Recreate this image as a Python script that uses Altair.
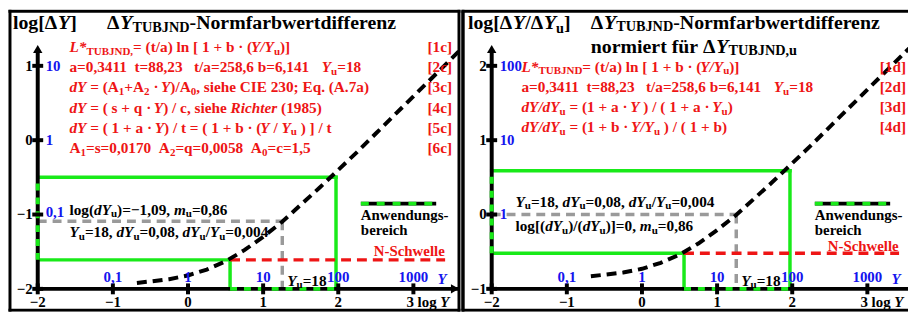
import altair as alt
import pandas as pd

# ---------------- values ----------------
log_Y = [-0.68, -0.5, -0.25, 0.0, 0.25, 0.5, 0.75, 1.0, 1.25, 1.5, 1.75, 2.0,
         2.25, 2.5, 2.75, 3.0, 3.25, 3.5, 3.65]
log_dY = [-1.92, -1.90, -1.87, -1.82, -1.74, -1.63, -1.48, -1.30, -1.10, -0.87,
          -0.64, -0.40, -0.16, 0.09, 0.34, 0.59, 0.84, 1.09, 1.24]
log_dY_rel = [-0.83, -0.81, -0.78, -0.73, -0.65, -0.54, -0.39, -0.21, -0.01, 0.22,
              0.45, 0.69, 0.93, 1.18, 1.43, 1.68, 1.93, 2.18, 2.33]

range_logY = [0.56, 1.97]          # Anwendungsbereich in log Y
range_dY = [-1.61, -0.50]          # left panel, log dY (lower = N-Schwelle)
range_dY_rel = [-0.52, 0.59]       # right panel, log dY/dYu
log_Yu = 1.255
log_dYu = -1.09
log_dYu_rel = 0.0

x_ticks = [-2, -1, 0, 1, 2, 3]
x_tick_labels = ["−2", "−1", "0", "1", "2"]
Y_values = [-1, 0, 1, 2, 3]
Y_labels = ["0,1", "1", "10", "100", "1000"]
y_ticks_left = [-2, -1, 0, 1]
y_labels_left = ["−2", "−1", "0", "1"]
dy_at_left = [-1, 0, 1]
dy_labels_left = ["0,1", "1", "10"]
y_ticks_right = [-1, 0, 1, 2]
y_labels_right = ["−1", "0", "1", "2"]
dy_at_right = [0, 1, 2]
dy_labels_right = ["1", "10", "100"]

# rich text lines: (text, kind)  kind: n=bold, i=bold italic, s=subscript, si=subscript italic
left_title1 = [("log[Δ", "n"), ("Y", "i"), ("]", "n")]
left_title2 = [("Δ", "n"), ("Y", "i"), ("TUBJND", "s"), ("-Normfarbwertdifferenz", "n")]
left_red = [
    [("L*", "i"), ("TUBJND,", "s"), ("= (t/a) ln [ 1 + b · (", "n"), ("Y/Y", "i"), ("u", "s"), (")]", "n")],
    [("a=0,3411  t=88,23   t/a=258,6 b=6,141   ", "n"), ("Y", "i"), ("u", "s"), ("=18", "n")],
    [("dY", "i"), (" = (A", "n"), ("1", "s"), ("+A", "n"), ("2", "s"), (" · ", "n"), ("Y", "i"),
     (")/A", "n"), ("0", "s"), (", siehe CIE 230; Eq. (A.7a)", "n")],
    [("dY", "i"), (" = ( s + q · ", "n"), ("Y", "i"), (") / c, siehe ", "n"), ("Richter", "i"), (" (1985)", "n")],
    [("dY", "i"), (" = ( 1 + a · ", "n"), ("Y", "i"), (") / t = ( 1 + b · (", "n"), ("Y", "i"), (" / ", "n"),
     ("Y", "i"), ("u", "s"), (" ) ] / t", "n")],
    [("A", "n"), ("1", "s"), ("=s=0,0170  A", "n"), ("2", "s"), ("=q=0,0058  A", "n"), ("0", "s"), ("=c=1,5", "n")],
]
left_red_tags = ["[1c]", "[2c]", "[3c]", "[4c]", "[5c]", "[6c]"]
left_black1 = [("log(", "n"), ("dY", "i"), ("u", "s"), (")=−1,09, ", "n"), ("m", "i"), ("u", "s"), ("=0,86", "n")]
yu_line = [("Y", "i"), ("u", "s"), ("=18, ", "n"), ("dY", "i"), ("u", "s"), ("=0,08, ", "n"), ("dY", "i"),
           ("u", "s"), ("/", "n"), ("Y", "i"), ("u", "s"), ("=0,004", "n")]
yu_short = [("Y", "i"), ("u", "s"), ("=18", "n")]

right_title1 = [("log[Δ", "n"), ("Y", "i"), ("/Δ", "n"), ("Y", "i"), ("u", "s"), ("]", "n")]
right_title2 = [("Δ", "n"), ("Y", "i"), ("TUBJND", "s"), ("-Normfarbwertdifferenz", "n")]
right_title3 = [("normiert für Δ", "n"), ("Y", "i"), ("TUBJND,u", "s")]
right_red = [
    [("L*", "i"), ("TUBJND", "s"), ("= (t/a) ln [ 1 + b · (", "n"), ("Y/Y", "i"), ("u", "s"), (")]", "n")],
    [("a=0,3411  t=88,23   t/a=258,6 b=6,141   ", "n"), ("Y", "i"), ("u", "s"), ("=18", "n")],
    [("dY/dY", "i"), ("u", "s"), (" = (1 + a · ", "n"), ("Y", "i"), (" ) / ( 1 + a · ", "n"), ("Y", "i"),
     ("u", "s"), (")", "n")],
    [("dY/dY", "i"), ("u", "s"), (" = (1 + b · ", "n"), ("Y/Y", "i"), ("u", "s"), (" ) / ( 1 + b)", "n")],
]
right_red_tags = ["[1d]", "[2d]", "[3d]", "[4d]"]
right_black2 = [("log[(", "n"), ("dY", "i"), ("u", "s"), (")/(", "n"), ("dY", "i"), ("u", "s"),
                (")]=0, ", "n"), ("m", "i"), ("u", "s"), ("=0,86", "n")]
legend_text = ["Anwendungs-", "bereich"]
threshold_text = "N-Schwelle"

# ---------------- styling ----------------
FONT = "Liberation Serif"
RED = "#ee1515"
BLUE = "#1414ee"
GREEN = "#19ea19"
GRAY = "#9a9a9a"
PXU, PYU = 75.8, 75.0
SUB = 0.72
TS = 20      # title size
FS = 15.4    # body text size

B = {" ": 250, "!": 333, "(": 333, ")": 333, "*": 500, "+": 570, ",": 250, "-": 333, ".": 250,
     "/": 278, ":": 333, ";": 333, "=": 570, "[": 333, "]": 333, "·": 250, "−": 570, "Δ": 667,
     "A": 722, "B": 667, "C": 722, "D": 722, "E": 667, "I": 389, "J": 500, "N": 722, "S": 556,
     "T": 667, "U": 722, "Y": 722, "a": 500, "b": 556, "c": 444, "d": 556, "e": 444, "f": 333,
     "g": 500, "h": 556, "i": 278, "k": 556, "l": 278, "m": 833, "n": 556, "o": 500, "q": 556,
     "r": 444, "s": 389, "t": 333, "u": 556, "w": 722, "z": 444, "ü": 556}
BI = {" ": 250, "*": 500, "/": 278, "L": 611, "Y": 611, "R": 667, "a": 500, "c": 444, "d": 500,
      "e": 444, "h": 556, "i": 278, "m": 778, "r": 389, "t": 278, "u": 556}


class Panel:
    def __init__(self, left, width, px0, ybase):
        self.left, self.width, self.px0, self.ybase = left, width, px0, ybase
        self.xs = alt.Scale(domain=[self.X(left), self.X(left + width)], nice=False, zero=False)
        self.ys = alt.Scale(domain=[self.Y(313), self.Y(8)], nice=False, zero=False)
        self.layers = []
        self.texts = []

    def X(self, px):
        return (px - self.px0) / PXU - 2

    def Y(self, py):
        return (290 - py) / PYU + self.ybase

    def enc(self, x="x", y="y"):
        return dict(x=alt.X(f"{x}:Q", scale=self.xs, axis=None),
                    y=alt.Y(f"{y}:Q", scale=self.ys, axis=None))

    def rules(self, rows, color, width, dash=None, cap="butt"):
        kw = dict(color=color, strokeWidth=width, strokeCap=cap, clip=True)
        if dash:
            kw["strokeDash"] = dash
        e = self.enc()
        e["x2"] = "x2:Q"
        e["y2"] = "y2:Q"
        self.layers.append(alt.Chart(pd.DataFrame(rows)).mark_rule(**kw).encode(**e))

    def rich(self, segs, px, py, size, color, align="left", subshift=0.3):
        parts, total = [], 0.0
        for t, k in segs:
            it = "i" in k
            sb = k.startswith("s")
            fs = size * SUB if sb else size
            tab = BI if it else B
            w = sum(tab.get(c, 500) for c in t) * fs / 1000
            lead = (len(t) - len(t.lstrip(" "))) * tab[" "] * fs / 1000
            parts.append((t.strip(" "), it, sb, fs, w, lead))
            total += w
        cur = px - (total if align == "right" else total / 2 if align == "center" else 0)
        for t, it, sb, fs, w, lead in parts:
            if t:
                self.texts.append(dict(x=self.X(cur + lead),
                                       y=self.Y(py + (subshift * size if sb else 0)),
                                       text=t.replace(" ", "\u00a0"), size=fs, color=color,
                                       italic=it))
            cur += w

    def text_layers(self):
        df = pd.DataFrame(self.texts)
        for it in (False, True):
            sub = df[df["italic"] == it]
            if len(sub):
                e = self.enc()
                e.update(text="text:N", size=alt.Size("size:Q", scale=None),
                         color=alt.Color("color:N", scale=None))
                self.layers.append(alt.Chart(sub).mark_text(
                    align="left", baseline="middle", font=FONT, fontWeight="bold",
                    fontStyle="italic" if it else "normal").encode(**e))

    def chart(self):
        self.text_layers()
        return alt.layer(*self.layers).properties(width=self.width, height=305)


def build(p, axis_y, top_y_px, right_px, curve_vals, rng, dyu, yticks, ylabels, dy_at, dy_labels,
          xlab_px, arrow):
    X, Y = p.X, p.Y
    # frame
    p.rules([dict(x=X(p.left + 2), x2=X(right_px), y=Y(10), y2=Y(10)),
             dict(x=X(p.left + 2), x2=X(right_px), y=Y(311.5), y2=Y(311.5)),
             dict(x=X(p.left + 2), x2=X(p.left + 2), y=Y(10), y2=Y(311.5))]
            + ([dict(x=X(right_px), x2=X(right_px), y=Y(10), y2=Y(311.5))] if arrow else []),
            "black", 3, cap="square")
    lo, hi = rng
    xl, xh = range_logY
    # Anwendungsbereich (solid part)
    p.rules([dict(x=-2, x2=xh, y=hi, y2=hi), dict(x=xh, x2=xh, y=hi, y2=axis_y),
             dict(x=xl, x2=xl, y=axis_y, y2=lo), dict(x=-2, x2=xl, y=lo, y2=lo)],
            GREEN, 3.5, cap="square")
    # Yu guide
    p.rules([dict(x=-2, x2=log_Yu, y=dyu, y2=dyu), dict(x=log_Yu, x2=log_Yu, y=dyu, y2=axis_y)],
            GRAY, 3.5, dash=[9, 6])
    # N-Schwelle
    p.rules([dict(x=xl, x2=X(xlab_px + 72), y=lo, y2=lo)], RED, 3.5, dash=[10, 6])
    # curve
    cdf = pd.DataFrame({"x": log_Y, "y": curve_vals, "o": range(len(log_Y))})
    e = p.enc()
    e["order"] = "o:Q"
    p.layers.append(alt.Chart(cdf).mark_line(color="black", strokeWidth=4, strokeDash=[10, 6],
                                             clip=True).encode(**e))
    # axes
    x_end = X(right_px - 1) if arrow else X(p.left + p.width + 5)
    p.rules([dict(x=-2, x2=x_end, y=axis_y, y2=axis_y),
             dict(x=-2, x2=-2, y=axis_y, y2=Y(top_y_px))], "black", 4)
    # Anwendungsbereich along the axes
    p.rules([dict(x=-2, x2=-2, y=lo, y2=hi), dict(x=xl, x2=xh, y=axis_y, y2=axis_y)],
            GREEN, 4, dash=[7, 7])
    # ticks
    tdf = pd.DataFrame({"x": x_ticks, "y": [axis_y] * len(x_ticks)})
    p.layers.append(alt.Chart(tdf).mark_tick(orient="vertical", size=11, thickness=4,
                                             color="black", opacity=1).encode(**p.enc()))
    ydf = pd.DataFrame({"x": [-2] * len(yticks), "y": yticks})
    p.layers.append(alt.Chart(ydf).mark_tick(orient="horizontal", size=11, thickness=4,
                                             color="black", opacity=1).encode(**p.enc()))
    # arrowheads
    ar = [dict(x=-2, y=Y(top_y_px - 4), s="triangle-up")]
    if arrow:
        ar.append(dict(x=X(right_px - 4), y=axis_y, s="triangle-right"))
    for a in ar:
        p.layers.append(alt.Chart(pd.DataFrame([a])).mark_point(
            shape=a["s"], filled=True, size=90, color="black", opacity=1).encode(**p.enc()))
    # legend line
    lx = xlab_px - 13
    p.rules([dict(x=X(lx), x2=X(lx + 76), y=Y(204), y2=Y(204))], "black", 4)
    p.rules([dict(x=X(lx), x2=X(lx + 76), y=Y(204), y2=Y(204))], GREEN, 4, dash=[8, 8])
    p.rich([(legend_text[0], "n")], lx, 216, 15, "black")
    p.rich([(legend_text[1], "n")], lx, 231, 15, "black")
    p.rich([(threshold_text, "n")], xlab_px, 252 if arrow else 247, 15, RED)
    # axis labels
    ox = p.px0
    for v, lab in zip(x_ticks[:-1], x_tick_labels):
        p.rich([(lab, "n")], ox + (v + 2) * PXU, 303, 15, "black", "center")
    p.rich([("3 log ", "n"), ("Y", "i")], ox + 5 * PXU - 7, 303, 15, "black")
    for v, lab in zip(Y_values, Y_labels):
        p.rich([(lab, "n")], ox + (v + 2) * PXU, 278, 15, BLUE, "center")
    p.rich([("Y", "i")], ox + 5 * PXU + 29, 280, 15, BLUE, "center")
    for v, lab in zip(yticks, ylabels):
        p.rich([(lab, "n")], ox - 5, 290 - (v - p.ybase) * PYU, 15, "black", "right")
    for v, lab in zip(dy_at, dy_labels):
        p.rich([(lab, "n")], ox + 8, 290 - (v - p.ybase) * PYU - (2 if lab == "0,1" else 0),
               15, BLUE)
    p.rich(yu_short, ox + 3.255 * PXU + 5, 282, FS, "black")


# ---------------- left panel ----------------
L = Panel(8, 457, 38, -2)
build(L, -2, 52, 463, log_dY, range_dY, log_dYu, y_ticks_left, y_labels_left, dy_at_left,
      dy_labels_left, 377, True)
L.rich(left_title1, 13, 22, TS, "black")
L.rich(left_title2, 108, 22, TS, "black", subshift=0.26)
for i, (segs, tag) in enumerate(zip(left_red, left_red_tags)):
    yy = 46 + i * 20.4
    L.rich(segs, 70, yy, FS, RED)
    L.rich([(tag, "n")], 456, yy, FS, RED, "right")
L.rich(left_black1, 70, 210, FS, "black")
L.rich(yu_line, 70, 233, FS, "black")

# ---------------- right panel ----------------
R = Panel(465, 451, 496, -1)
build(R, -1, 52, 930, log_dY_rel, range_dY_rel, log_dYu_rel, y_ticks_right, y_labels_right,
      dy_at_right, dy_labels_right, 835, False)
R.rules([dict(x=R.X(467), x2=R.X(467), y=R.Y(10), y2=R.Y(311.5))], "black", 3)
R.rich(right_title1, 472, 22, TS, "black")
R.rich(right_title2, 596, 21.5, TS, "black", subshift=0.22)
R.rich(right_title3, 596, 46, TS, "black", subshift=0.2)
for i, (segs, tag) in enumerate(zip(right_red, right_red_tags)):
    yy = 66 + i * 20.4
    R.rich(segs, 526, yy, FS, RED)
    R.rich([(tag, "n")], 914, yy, FS, RED, "right")
R.rich(yu_line, 520, 202, FS, "black")
R.rich(right_black2, 520, 227, FS, "black")

chart = alt.hconcat(L.chart(), R.chart(), spacing=0).properties(padding=0).configure_view(stroke=None)
chart.save("out.html", embed_options={"renderer": "svg", "actions": False})
